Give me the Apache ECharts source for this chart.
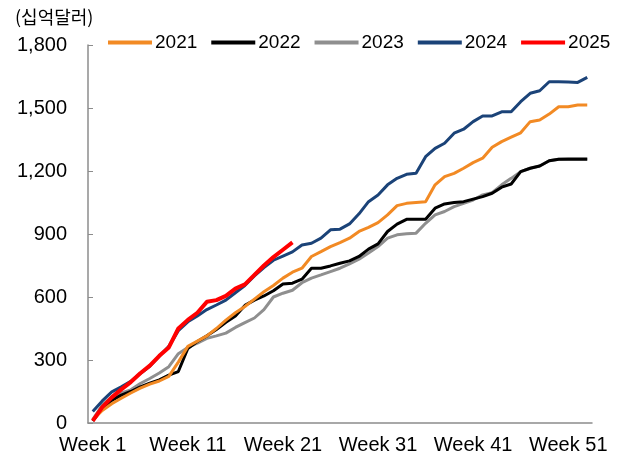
<!DOCTYPE html>
<html><head><meta charset="utf-8">
<script src="https://cdn.jsdelivr.net/npm/echarts@6/dist/echarts.min.js"></script>
<style>html,body{margin:0;padding:0;background:#fff}#c{width:622px;height:460px}</style>
</head><body><div id="c"></div>
<script>
var weeks = [];
for (var w = 1; w <= 53; w++) weeks.push('Week ' + w);
var unitLabel = '(십억달러)';
var yTicks = [0, 300, 600, 900, 1200, 1500, 1800];
var names = ['2021', '2022', '2023', '2024', '2025'];
var colors = ['#F28A24', '#000000', '#8F8F8F', '#1B4378', '#FF0000'];
var s2021 = [15,60,92,118,143,166,185,200,222,290,365,390,415,450,490,525,555,590,625,655,690,718,737,793,816,840,859,880,912,932,954,991,1035,1046,1050,1054,1134,1173,1189,1213,1240,1261,1313,1340,1361,1382,1435,1443,1471,1506,1506,1514,1514];
var s2022 = [10,68,108,133,150,172,190,205,228,245,355,388,415,445,480,510,560,585,605,630,662,666,685,737,737,748,761,772,793,828,853,912,947,970,970,970,1023,1043,1050,1054,1066,1078,1094,1123,1138,1197,1213,1224,1249,1256,1256,1256,1256];
var s2023 = [16,85,125,143,158,188,212,238,268,330,360,380,403,415,428,455,478,500,540,600,618,632,668,690,705,721,737,758,780,809,840,880,896,901,904,951,991,1007,1030,1046,1062,1086,1097,1134,1165,1197,1213,1224,1249,1256,1258,1258,1258];
var s2024 = [55,105,148,172,198,236,270,318,365,440,482,510,540,562,585,620,655,700,740,775,795,815,848,856,880,920,923,948,996,1054,1086,1134,1165,1184,1189,1268,1308,1332,1380,1399,1435,1462,1462,1482,1482,1530,1570,1582,1625,1625,1624,1622,1646];
var s2025 = [10,76,122,160,195,237,273,320,360,450,491,525,577,585,605,640,660,705,750,790,825,860];
var data = [s2021, s2022, s2023, s2024, s2025];

var chart = echarts.init(document.getElementById('c'));
var font = "'Liberation Sans', Arial, sans-serif";
chart.setOption({
  animation: false,
  textStyle: {fontFamily: font},
  title: {text: unitLabel, left: 10, top: 3, textStyle: {fontSize: 18, fontWeight: 'normal', color: '#000', fontFamily: "'Noto Sans CJK KR', sans-serif"}},
  legend: {
    left: 108, top: 33, width: 514, padding: 0, itemWidth: 44, itemHeight: 12, itemGap: 14,
    textStyle: {fontSize: 19, color: '#000', fontFamily: font, padding: [0,0,0,-2]},
    data: names.map(function(n, i){ return {name: n, icon: 'path://M0,0 L44,0 L44,4 L0,4 Z', itemStyle: {color: colors[i]}}; })
  },
  grid: {left: 88, right: 30, top: 45, bottom: 37, containLabel: false},
  xAxis: {
    type: 'category', data: weeks, boundaryGap: true,
    axisLine: {lineStyle: {color: '#8c8c8c', width: 1.5}},
    axisTick: {inside: true, length: 5, interval: 9, lineStyle: {color: '#8c8c8c'}},
    axisLabel: {interval: 9, fontSize: 20, color: '#000', margin: 12, fontFamily: font},
    splitLine: {show: false}
  },
  yAxis: {
    type: 'value', min: 0, max: 1800, interval: 300,
    axisLine: {show: true, lineStyle: {color: '#8c8c8c', width: 1.5}},
    axisTick: {show: true, inside: true, length: 5, lineStyle: {color: '#8c8c8c'}},
    axisLabel: {fontSize: 20, color: '#000', margin: 21, fontFamily: font,
      formatter: function(v){ return v.toLocaleString('en-US'); }},
    splitLine: {show: false}
  },
  series: names.map(function(n, i){
    return {name: n, type: 'line', data: data[i], symbol: 'none', smooth: false,
      z: i === 4 ? 10 : (i === 3 ? 8 : 5 - i),
      lineStyle: {color: colors[i], width: i === 4 ? 4 : 3},
      itemStyle: {color: colors[i]}};
  })
});
</script></body></html>
